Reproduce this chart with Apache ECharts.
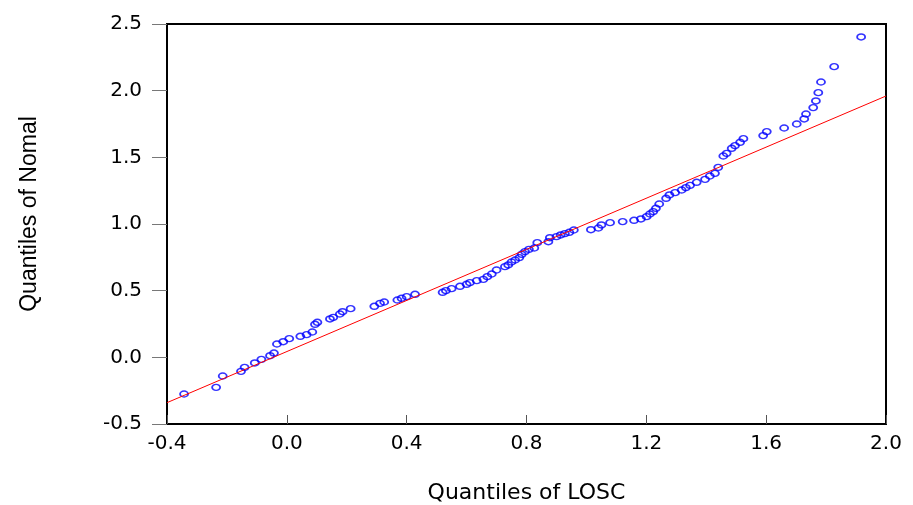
<!DOCTYPE html>
<html>
<head>
<meta charset="utf-8">
<title>Q-Q plot LOSC</title>
<script src="https://cdn.jsdelivr.net/npm/echarts@6/dist/echarts.min.js"></script>
<style>
  html, body { margin: 0; padding: 0; background: #fff; }
  #qqChart { width: 913px; height: 505px; }
</style>
</head>
<body>
<div id="qqChart"></div>
<script>
// Quantiles of LOSC (x) against quantiles of Normal (y)
const losc = [
  -0.343, -0.236, -0.214, -0.153, -0.141, -0.107, -0.085, -0.056, -0.043, -0.033,
  -0.012, 0.008, 0.045, 0.066, 0.085, 0.094, 0.102, 0.144, 0.155, 0.177,
  0.186, 0.213, 0.292, 0.311, 0.325, 0.369, 0.383, 0.400, 0.428, 0.520,
  0.531, 0.550, 0.578, 0.600, 0.611, 0.634, 0.656, 0.669, 0.684, 0.700,
  0.728, 0.739, 0.750, 0.762, 0.776, 0.784, 0.795, 0.808, 0.826, 0.836,
  0.873, 0.878, 0.900, 0.914, 0.928, 0.943, 0.958, 1.015, 1.040, 1.050,
  1.079, 1.121, 1.159, 1.182, 1.201, 1.212, 1.223, 1.232, 1.243, 1.266,
  1.277, 1.296, 1.318, 1.332, 1.346, 1.368, 1.396, 1.412, 1.429, 1.440,
  1.457, 1.468, 1.485, 1.496, 1.513, 1.524, 1.590, 1.602, 1.660, 1.702,
  1.727, 1.733, 1.757, 1.766, 1.774, 1.783, 1.827, 1.917
];
const normal = [
  -0.275, -0.225, -0.140, -0.105, -0.075, -0.042, -0.015, 0.012, 0.032, 0.100,
  0.117, 0.140, 0.158, 0.170, 0.190, 0.248, 0.263, 0.288, 0.300, 0.325,
  0.342, 0.365, 0.383, 0.405, 0.415, 0.430, 0.443, 0.455, 0.473, 0.488,
  0.500, 0.515, 0.533, 0.548, 0.560, 0.575, 0.585, 0.605, 0.625, 0.655,
  0.680, 0.693, 0.715, 0.730, 0.748, 0.773, 0.793, 0.810, 0.820, 0.860,
  0.867, 0.897, 0.905, 0.918, 0.928, 0.938, 0.955, 0.957, 0.970, 0.993,
  1.010, 1.018, 1.028, 1.038, 1.055, 1.075, 1.093, 1.118, 1.150, 1.193,
  1.218, 1.235, 1.255, 1.273, 1.290, 1.313, 1.335, 1.360, 1.380, 1.425,
  1.510, 1.530, 1.568, 1.588, 1.613, 1.640, 1.663, 1.693, 1.720, 1.750,
  1.788, 1.825, 1.873, 1.923, 1.985, 2.065, 2.180, 2.403
];

// reference line end points
const lineX = [-0.4, 2.0];
const lineY = [-0.34, 1.96];

const chart = echarts.init(document.getElementById('qqChart'));

const labelFont = {
    color: '#000',
    fontFamily: 'DejaVu Sans',
    fontSize: 20
};

const option = {
    animation: false,
    backgroundColor: '#fff',
    grid: {
        left: 167,
        right: 27,
        top: 24,
        bottom: 81,
        outerBoundsMode: 'none',
        show: true,
        borderColor: '#000',
        borderWidth: 2,
        backgroundColor: '#fff'
    },
    xAxis: {
        type: 'value',
        min: -0.4,
        max: 2.0,
        interval: 0.4,
        name: 'Quantiles of LOSC',
        nameLocation: 'middle',
        nameGap: 58,
        nameTextStyle: {
            color: '#000',
            fontFamily: 'DejaVu Sans',
            fontSize: 22
        },
        axisLine: { show: true, onZero: false, lineStyle: { color: '#000', width: 2 } },
        axisTick: { show: true, inside: true, length: 9, lineStyle: { color: '#555' } },
        axisLabel: Object.assign({
            margin: 10,
            formatter: v => v.toFixed(1)
        }, labelFont),
        splitLine: { show: false }
    },
    yAxis: {
        type: 'value',
        min: -0.5,
        max: 2.5,
        interval: 0.5,
        name: 'Quantiles of Nomal',
        nameLocation: 'middle',
        nameGap: 126,
        nameTextStyle: {
            color: '#000',
            fontFamily: 'Liberation Sans',
            fontSize: 23,
            padding: [0, 0, 0, 20]
        },
        axisLine: { show: true, onZero: false, lineStyle: { color: '#000', width: 2 } },
        axisTick: { show: true, inside: false, length: 15, lineStyle: { color: '#777' } },
        axisLabel: Object.assign({
            margin: 25,
            formatter: v => v.toFixed(1)
        }, labelFont),
        splitLine: { show: false }
    },
    series: [
        {
            name: 'fit',
            type: 'line',
            data: lineX.map((x, i) => [x, lineY[i]]),
            symbol: 'none',
            lineStyle: { color: '#ff0000', width: 1 },
            silent: true
        },
        {
            name: 'LOSC',
            type: 'scatter',
            data: losc.map((x, i) => [x, normal[i]]),
            symbol: 'circle',
            symbolSize: [8, 6],
            itemStyle: {
                color: 'rgba(0,0,0,0)',
                borderColor: '#0000ff',
                borderWidth: 1.6
            }
        }
    ]
};

chart.setOption(option);

window.addEventListener('resize', function() {
    chart.resize();
});
</script>
</body>
</html>
